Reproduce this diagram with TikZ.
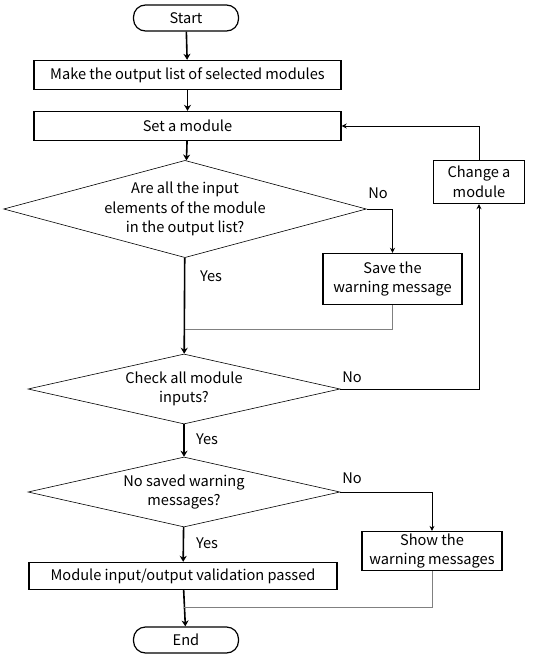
\documentclass[tikz,border=0pt]{standalone}
\usepackage{fontspec}
\setmainfont{Noto Sans CJK KR}
\usetikzlibrary{shapes.geometric,arrows.meta}

\begin{document}
\begin{tikzpicture}[x=1pt,y=-1pt,
        every node/.style={font=\fontsize{14.6}{19.5}\selectfont, align=center},
        terminal/.style={draw, line width=1.2pt, rounded corners=12pt, minimum width=105pt, minimum height=26pt},
        procbox/.style={draw, line width=1.4pt, minimum height=29pt, inner sep=2pt},
        decision/.style={draw, diamond, line width=0.6pt, inner sep=0pt},
        flow/.style={line width=1.6pt, -{Stealth[length=6pt,width=7pt]}},
        back/.style={line width=0.8pt},
        tag/.style={font=\fontsize{14.6}{17}\selectfont},
    ]
    \useasboundingbox (0,0) rectangle (542,658);

    % main column
    \node[terminal] (start) at (186,18) {Start};
    \node[procbox, minimum width=307pt] (make) at (187.5,75) {Make the output list of selected modules};
    \node[procbox, minimum width=307pt] (set) at (187.5,126) {Set a module};
    \node[decision, aspect=3.73, minimum width=358pt, minimum height=96pt] (d1) at (185,209) {Are all the input\\elements of the module\\in the output list?};
    \node[decision, aspect=4.46, minimum width=312pt, minimum height=70pt] (d2) at (184,389) {Check all module\\inputs?};
    \node[decision, aspect=4.46, minimum width=312pt, minimum height=70pt] (d3) at (184,492) {No saved warning\\messages?};
    \node[procbox, minimum width=308pt, minimum height=27pt] (valid) at (183,576) {Module input/output validation passed};
    \node[terminal] (end) at (186,640) {End};

    % side boxes
    \node[procbox, minimum width=139pt, minimum height=51pt] (save) at (392.5,279) {Save the\\warning message};
    \node[procbox, minimum width=91pt, minimum height=43pt] (change) at (479,182) {Change a\\module};
    \node[procbox, minimum width=140pt, minimum height=34pt] (show) at (432,551) {Show the\\warning messages};

    \coordinate (j1) at (185,329);
    \coordinate (j2) at (184,607);

    % labels
    \node[tag] (no1) at (378,193) {No};
    \node[tag] (yes1) at (211,276) {Yes};
    \node[tag] (no2) at (352,377) {No};
    \node[tag] (yes2) at (207,439) {Yes};
    \node[tag] (no3) at (352,478) {No};
    \node[tag] (yes3) at (207,543) {Yes};

    \draw[flow] (start) -- (make);
    \draw[flow] (make) -- (set);
    \draw[flow] (set) -- (d1);
    \draw[flow] (d1) -- (d2);
    \draw[flow] (d2) -- (d3);
    \draw[flow] (d3) -- (valid);
    \draw[flow] (valid) -- (end);

    \draw[back, -{Stealth[length=5pt,width=5pt]}] (d1.east) -| (save.north);
    \draw[back, gray] (save.south) |- (j1);
    \draw[back, -{Stealth[length=5pt,width=5pt]}] (d2.east) -| (change.south);
    \draw[back, -{Stealth[length=5pt,width=5pt]}] (change.north) |- (set.east);
    \draw[back, -{Stealth[length=5pt,width=5pt]}] (d3.east) -| (show.north);
    \draw[back, gray] (show.south) |- (j2);
\end{tikzpicture}
\end{document}
